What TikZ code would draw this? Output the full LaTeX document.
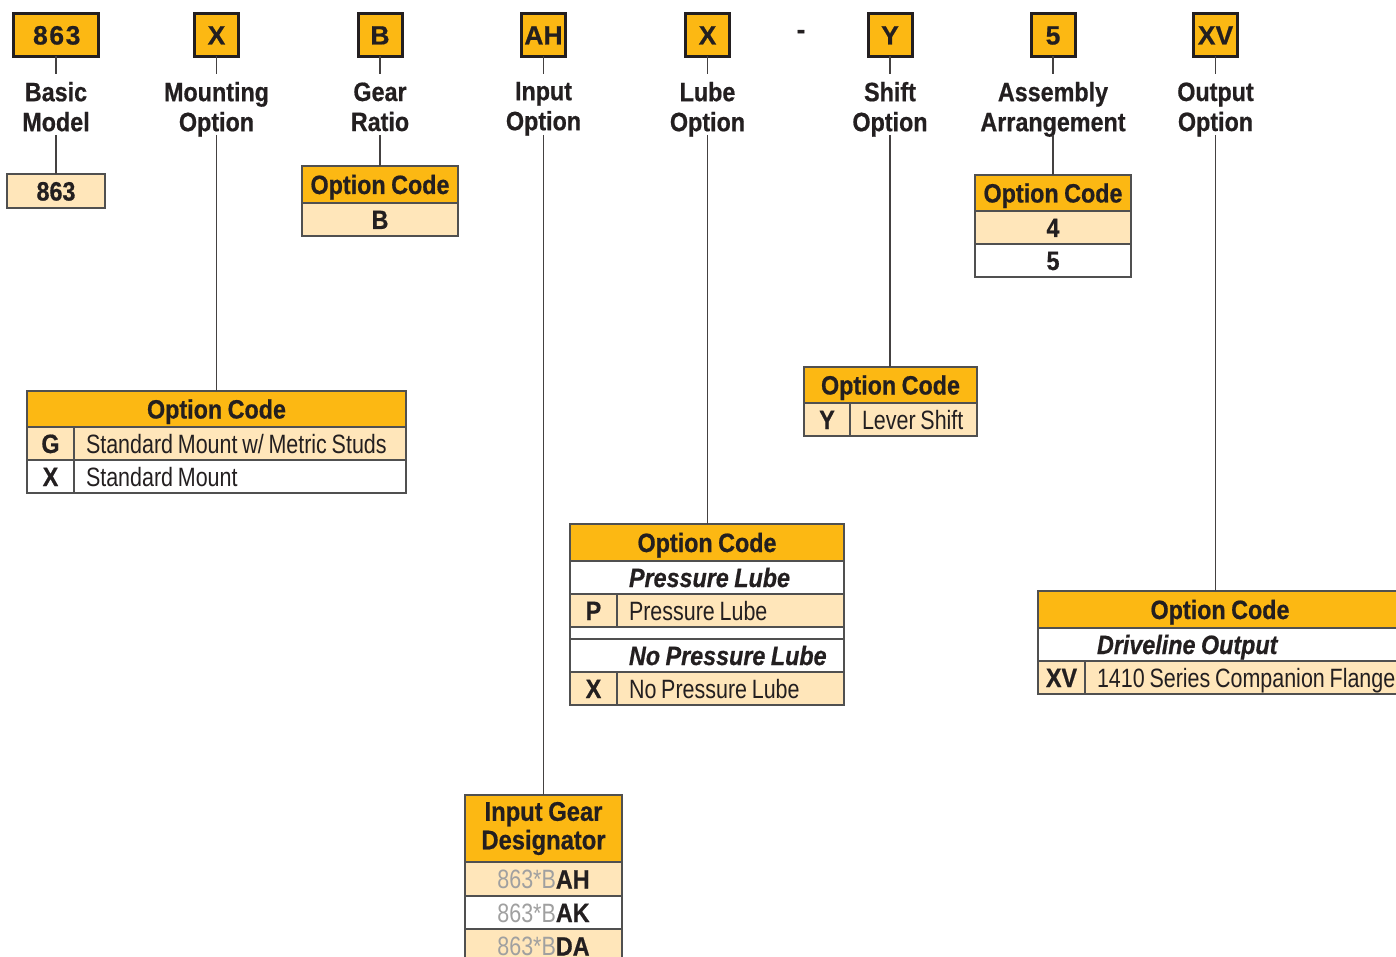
\documentclass[tikz,border=0pt]{standalone}
\usepackage{fontspec}
\setmainfont{Liberation Sans}[UprightFeatures={FakeStretch=0.81,WordSpace=0.8},BoldFeatures={FakeStretch=0.88,WordSpace=0.85,FakeBold=0.6},ItalicFeatures={FakeStretch=0.8,WordSpace=0.8},BoldItalicFeatures={FakeStretch=0.88,WordSpace=0.85,FakeBold=0.6}]
\newfontfamily\boxfont{Liberation Sans}[BoldFeatures={FakeBold=0.6}]
\definecolor{org}{RGB}{252,184,19}
\definecolor{lt}{RGB}{255,230,186}
\definecolor{ink}{RGB}{35,31,32}
\definecolor{rulec}{RGB}{80,80,80}
\definecolor{gtx}{RGB}{160,160,160}
\newcommand\lefttext[2]{\makebox[#1][l]{#2}}
\begin{document}
\begin{tikzpicture}[x=1pt,y=-1pt,
  every node/.style={inner sep=0pt, outer sep=0pt, text=ink, font=\fontsize{26.5}{30}\selectfont},
  topbox/.style={draw=ink, line width=3pt, fill=org, minimum height=43pt, text height=19pt, text depth=0pt, font=\fontsize{26.5}{30}\selectfont\boxfont\bfseries},
  lab/.style={anchor=north, align=center, font=\fontsize{26.5}{30}\selectfont\bfseries},
  conn/.style={draw=ink!85, line width=1.5pt},
  tc/.style={draw=rulec, line width=1.5pt, anchor=north west, text height=19pt, text depth=0pt},
  hdr/.style={tc, fill=org, font=\fontsize{26.5}{30}\selectfont\bfseries},
  lcell/.style={tc, fill=lt},
  wcell/.style={tc, fill=white},
  code/.style={font=\fontsize{26.5}{30}\selectfont\bfseries},
  desc/.style={inner xsep=12pt},
  sub/.style={inner xsep=0pt, font=\fontsize{26.5}{30}\selectfont\bfseries\itshape}
]
\clip (0,0) rectangle (1396,957);
\fill[white] (0,0) rectangle (1396,957);

% ---- top code boxes
\node[topbox, minimum width=85pt] (k1) at (56,35) {\addfontfeature{LetterSpace=6}863\kern-1.5pt};
\node[topbox, minimum width=44pt] (k2) at (216.5,35) {X};
\node[topbox, minimum width=44pt] (k3) at (380,35) {B};
\node[topbox, minimum width=44pt] (k4) at (543.5,35) {AH};
\node[topbox, minimum width=44pt] (k5) at (707.5,35) {X};
\node[font=\fontsize{26.5}{30}\selectfont\boxfont\bfseries, anchor=base] (dash) at (801,38.5) {-};
\node[topbox, minimum width=44pt] (k6) at (890,35) {Y};
\node[topbox, minimum width=44pt] (k7) at (1053,35) {5};
\node[topbox, minimum width=44pt] (k8) at (1215.5,35) {XV};

% ---- labels
\node[lab] (l1) at (56,82) {Basic\\Model};
\node[lab] (l2) at (216.5,82) {Mounting\\Option};
\node[lab] (l3) at (380,82.5) {Gear\\Ratio};
\node[lab] (l4) at (543.5,82) {Input\\Option};
\node[lab] (l5) at (707.5,82) {Lube\\Option};
\node[lab] (l6) at (890,82) {Shift\\Option};
\node[lab] (l7) at (1053,82) {Assembly\\Arrangement};
\node[lab] (l8) at (1215.5,82.5) {Output\\Option};

% ---- Basic model table
\node[lcell, code, minimum width=98pt, minimum height=34pt] (bm) at (7,174) {863};

% ---- Gear ratio table
\node[hdr, minimum width=156pt, minimum height=37pt] (gh) at (302,166) {Option Code};
\node[lcell, code, minimum width=156pt, minimum height=33pt] (gb) at (302,203) {B};

% ---- Mounting table
\node[hdr, minimum width=379pt, minimum height=36pt] (mh) at (27,391) {Option Code};
\node[lcell, code, minimum width=47pt, minimum height=33pt] (mg) at (27,427) {G};
\node[lcell, desc, minimum height=33pt] (mgd) at (74,427) {\lefttext{308pt}{Standard Mount w/ Metric Studs}};
\node[wcell, code, minimum width=47pt, minimum height=33pt] (mx) at (27,460) {X};
\node[wcell, desc, minimum height=33pt] (mxd) at (74,460) {\lefttext{308pt}{Standard Mount}};

% ---- Lube table
\node[hdr, minimum width=274pt, minimum height=37pt] (uh) at (570,524) {Option Code};
\node[wcell, sub, minimum height=33pt] (us1) at (570,561) {\lefttext{274pt}{\hspace*{59pt}Pressure Lube}};
\node[lcell, code, minimum width=47pt, minimum height=33pt] (up) at (570,594) {P};
\node[lcell, desc, minimum height=33pt] (upd) at (617,594) {\lefttext{203pt}{Pressure Lube}};
\node[wcell, minimum width=274pt, minimum height=12pt, text height=0pt] (ugap) at (570,627) {};
\node[wcell, sub, minimum height=33pt] (us2) at (570,639) {\lefttext{274pt}{\hspace*{59pt}No Pressure Lube}};
\node[lcell, code, minimum width=47pt, minimum height=33pt] (ux) at (570,672) {X};
\node[lcell, desc, minimum height=33pt] (uxd) at (617,672) {\lefttext{203pt}{No Pressure Lube}};

% ---- Shift table
\node[hdr, minimum width=173pt, minimum height=36pt] (sh) at (804,367) {Option Code};
\node[lcell, code, minimum width=46pt, minimum height=33pt] (sy) at (804,403) {Y};
\node[lcell, desc, minimum height=33pt] (syd) at (850,403) {\lefttext{103pt}{Lever Shift}};

% ---- Assembly table
\node[hdr, minimum width=156pt, minimum height=36pt] (ah) at (975,175) {Option Code};
\node[lcell, code, minimum width=156pt, minimum height=33pt] (a4) at (975,211) {4};
\node[wcell, code, minimum width=156pt, minimum height=33pt] (a5) at (975,244) {5};

% ---- Output table
\node[hdr, minimum width=364pt, minimum height=37pt] (oh) at (1038,591) {Option Code};
\node[wcell, sub, minimum height=33pt] (os) at (1038,628) {\lefttext{364pt}{\hspace*{59pt}Driveline Output}};
\node[lcell, code, minimum width=47pt, minimum height=33pt] (oxv) at (1038,661) {XV};
\node[lcell, desc, minimum height=33pt] (oxvd) at (1085,661) {\lefttext{293pt}{1410 Series Companion Flange}};

% ---- Input gear designator
\node[tc, fill=org, align=center, text height=, text depth=, minimum width=157pt, minimum height=67pt, font=\fontsize{27}{28.5}\selectfont\bfseries] (ih) at (465,795) {Input Gear\\Designator};
\node[lcell, minimum width=157pt, minimum height=34pt] (i1) at (465,862) {{\color{gtx}863*B}\textbf{AH}};
\node[wcell, minimum width=157pt, minimum height=33pt] (i2) at (465,896) {{\color{gtx}863*B}\textbf{AK}};
\node[lcell, minimum width=157pt, minimum height=34pt] (i3) at (465,929) {{\color{gtx}863*B}\textbf{DA}};

% ---- connector end points
\coordinate (c1a) at (56,74);     \coordinate (c1b) at (56,135);
\coordinate (c2a) at (216.5,74);  \coordinate (c2b) at (216.5,135);
\coordinate (c3a) at (380,74);    \coordinate (c3b) at (380,135);
\coordinate (c4a) at (543.5,74);  \coordinate (c4b) at (543.5,135);
\coordinate (c5a) at (707.5,74);  \coordinate (c5b) at (707.5,135);
\coordinate (c6a) at (890,74);    \coordinate (c6b) at (890,135);
\coordinate (c7a) at (1053,74);   \coordinate (c7b) at (1053,135);
\coordinate (c8a) at (1215.5,74); \coordinate (c8b) at (1215.5,135);

\draw[conn] (k1.south) -- (c1a); \draw[conn] (c1b) -- (c1b |- bm.north);
\draw[conn] (k2.south) -- (c2a); \draw[conn] (c2b) -- (c2b |- mh.north);
\draw[conn] (k3.south) -- (c3a); \draw[conn] (c3b) -- (c3b |- gh.north);
\draw[conn] (k4.south) -- (c4a); \draw[conn] (c4b) -- (c4b |- ih.north);
\draw[conn] (k5.south) -- (c5a); \draw[conn] (c5b) -- (c5b |- uh.north);
\draw[conn] (k6.south) -- (c6a); \draw[conn] (c6b) -- (c6b |- sh.north);
\draw[conn] (k7.south) -- (c7a); \draw[conn] (c7b) -- (c7b |- ah.north);
\draw[conn] (k8.south) -- (c8a); \draw[conn] (c8b) -- (c8b |- oh.north);
\end{tikzpicture}
\end{document}
